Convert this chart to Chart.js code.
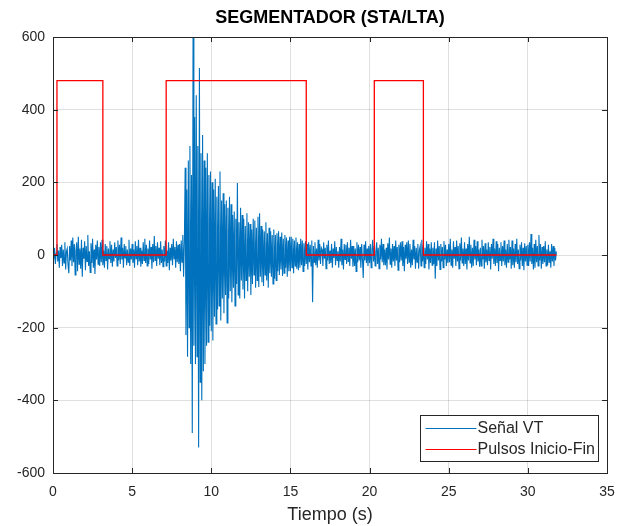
<!DOCTYPE html>
<html>
<head>
<meta charset="utf-8">
<script src="https://cdn.jsdelivr.net/npm/chart.js@4"></script>
<style>
  html, body { margin: 0; padding: 0; background: #fff; }
  #wrap { width: 617px; height: 526px; position: relative; }
</style>
</head>
<body>
<div id="wrap"><canvas id="chart-segmentador"></canvas></div>
<script>
// signal samples, one every 0.05 s starting at t = 0 (20 per row = 1 s)
const signalStart = 0;
const signalStep = 0.05;
const signalVT = [
  8, -12, 20, -25, 5, 30, -18, 12, -35, 22, -8, 28, -30, 15, -22, 35, -40, 10, 18, -28,
  -50, 25, -15, 40, -30, 48, -20, 30, -55, 12, 35, -45, 50, -25, 18, -38, 42, -60, 20, -10,
  38, -42, 25, -18, 55, -30, 10, -48, 32, -22, 45, -35, 15, -52, 28, -12, 40, -25, 22, -30,
  35, -20, 42, -28, 12, -35, 30, -15, 25, -40, 18, -10, 38, -22, 28, -32, 15, -18, 35, -8,
  22, -30, 40, -15, 28, -25, 48, -12, 20, -35, 30, -8, 25, -28, 15, -20, 42, -30, 18, -12,
  30, -22, 15, -35, 38, -10, 25, -28, 42, -18, 20, -32, 12, -25, 35, -15, 45, -22, 28, -30,
  18, -25, 40, -12, 22, -38, 30, -20, 52, -15, 25, -30, 35, -10, 20, -28, 38, -22, 15, -32,
  25, -18, 40, -30, 12, -22, 35, -42, 20, -15, 30, -28, 45, -10, 22, -35, 38, -20, 28, -25,
  30, -45, 40, -20, 55, -60, 35, 240, -220, 180, -280, 260, -200, 300, -300, 220, -490, 650, -250, 380,
  -300, 440, -280, 300, -530, 515, -350, 280, -400, 330, -320, 260, -300, 240, -250, 280, -240, 220, -195, 230,
  -210, 200, -235, 180, -170, 210, -190, 160, -150, 190, -140, 230, -180, 150, -120, 170, -160, 140, -110, 150,
  -187, 130, -120, 160, -100, 140, -130, 110, -90, 120, -140, 100, -80, 198, -110, 90, -120, 130, -70, 110,
  -95, 100, -120, 80, -70, 115, -100, 90, -60, 85, -110, 70, -80, 100, -55, 95, -90, 75, -70, 105,
  -88, 115, -60, 80, -75, 70, -85, 65, -55, 90, -70, 60, -90, 75, -50, 65, -60, 55, -80, 70,
  -65, 55, -70, 60, -45, 65, -55, 50, -40, 62, -58, 45, -50, 55, -35, 48, -60, 40, -45, 50,
  -45, 50, -35, 45, -50, 40, -30, 48, -38, 35, -42, 30, -35, 45, -28, 40, -45, 32, -30, 38,
  -25, 30, -40, 35, -20, 28, -30, 40, -130, 25, -20, 35, -28, 18, -35, 42, -15, 30, -25, 20,
  15, -30, 35, -10, 20, -38, 28, -15, 40, -25, 12, -22, 30, -35, 18, -8, 38, -28, 22, -15,
  10, -35, 22, -18, 45, -28, 15, -40, 30, -12, 28, -25, 35, -18, 20, -30, 42, -10, 25, -32,
  25, -30, 18, -45, 35, -20, 28, -15, 22, -35, 30, -12, -63, 28, -15, 38, -22, 18, -30, 25,
  -22, 30, -35, 15, 42, -18, 25, -30, 10, 35, -25, 20, -38, 28, -12, 45, -20, 30, -28, 15,
  -28, 20, -40, 32, -12, 48, -25, 18, -35, 30, -18, 25, -30, 40, -15, 22, -42, 28, -20, 35,
  -15, 38, -30, 22, -45, 28, -10, 35, -25, 40, -20, 30, -35, 15, -28, 42, -12, 25, -38, 20,
  -20, 30, -38, 15, 25, -30, 42, -18, 28, -35, 20, -25, 38, -12, 30, -40, 18, -22, 35, -28,
  20, -25, 35, -65, 18, -30, 40, -15, 25, -40, 30, -18, 22, -35, 38, -12, 28, -30, 15, -22,
  30, -20, 45, -28, 15, -35, 38, -10, 22, -30, 40, -18, 25, -38, 32, -15, 48, -22, 18, -30,
  35, -25, 18, -40, 30, -15, 50, -22, 28, -35, 20, -30, 42, -12, 25, -28, 38, -18, 15, -32,
  20, -30, 42, -12, 25, -38, 32, -20, 15, -28, 35, -15, 22, -40, 30, -10, 45, -25, 18, -30,
  38, -22, 30, -45, 20, -15, 35, -30, 25, -18, 40, -28, 15, -35, 30, -20, 42, -12, 22, -38,
  40, -28, 18, -35, 30, -20, 45, -25, 15, -38, 28, -15, 35, -30, 20, -42, 32, -18, 25, -28,
  28, -30, 35, -18, 58, -25, 20, -40, 30, -35, 42, -20, 25, -30, 55, -15, 30, -38, 22, -25,
  25, -20, 38, -30, 15, -28, 28, -22, 10, -35, 30, -18, 25, -30, 20, -15, 10
];

// start / end pulses from the STA/LTA detector
const pulseStarts = [0.25, 7.15, 20.3];
const pulseEnds = [3.15, 16.0, 23.4];
const pulseLevel = 480;

const xTicks = [0, 5, 10, 15, 20, 25, 30, 35];
const yTicks = [-600, -400, -200, 0, 200, 400, 600];

const seriesLabels = ["Señal VT", "Pulsos Inicio-Fin"];
const seriesColors = ["#0072BD", "#FF0000"];

const FONT = "'Liberation Sans', Arial, Helvetica, sans-serif";
const AXIS_COLOR = "#262626";
const GRID_COLOR = "rgba(38,38,38,0.15)";

function signalPoints() {
  return signalVT.map((v, i) => ({ x: +(signalStart + i * signalStep).toFixed(2), y: v }));
}

function pulsePoints() {
  const end = +(signalStart + (signalVT.length - 1) * signalStep).toFixed(2);
  const pts = [{ x: signalStart, y: 0 }];
  pulseStarts.forEach((s, i) => {
    pts.push({ x: s, y: 0 }, { x: s, y: pulseLevel }, { x: pulseEnds[i], y: pulseLevel }, { x: pulseEnds[i], y: 0 });
  });
  pts.push({ x: end, y: 0 });
  return pts;
}

// MATLAB-like decorations: title, box, inward ticks, legend inside the axes
const matlabFrame = {
  id: "matlabFrame",
  afterDraw(chart) {
    const { ctx, chartArea: a, scales } = chart;
    ctx.save();
    ctx.strokeStyle = AXIS_COLOR;
    ctx.lineWidth = 1;
    ctx.strokeRect(Math.round(a.left) + 0.5, Math.round(a.top) + 0.5, Math.round(a.right - a.left), Math.round(a.bottom - a.top));
    ctx.beginPath();
    xTicks.forEach((t) => {
      const px = Math.round(scales.x.getPixelForValue(t)) + 0.5;
      ctx.moveTo(px, a.bottom); ctx.lineTo(px, a.bottom - 5);
      ctx.moveTo(px, a.top); ctx.lineTo(px, a.top + 5);
    });
    yTicks.forEach((t) => {
      const py = Math.round(scales.y.getPixelForValue(t)) + 0.5;
      ctx.moveTo(a.left, py); ctx.lineTo(a.left + 5, py);
      ctx.moveTo(a.right, py); ctx.lineTo(a.right - 5, py);
    });
    ctx.stroke();

    ctx.fillStyle = "#000";
    ctx.font = `bold 18px ${FONT}`;
    ctx.textAlign = "center";
    ctx.textBaseline = "middle";
    ctx.fillText("SEGMENTADOR (STA/LTA)", (a.left + a.right) / 2, 18);

    // legend
    const lx = 420.5, ly = 415.5, lw = 178, lh = 46;
    ctx.fillStyle = "#fff";
    ctx.fillRect(lx, ly, lw, lh);
    ctx.strokeStyle = AXIS_COLOR;
    ctx.strokeRect(lx, ly, lw, lh);
    ctx.font = `16px ${FONT}`;
    ctx.textAlign = "left";
    seriesLabels.forEach((label, i) => {
      const y = ly + 13 + i * 21;
      ctx.strokeStyle = seriesColors[i];
      ctx.beginPath();
      ctx.moveTo(lx + 5, y);
      ctx.lineTo(lx + 56, y);
      ctx.stroke();
      ctx.fillStyle = AXIS_COLOR;
      ctx.fillText(label, lx + 57, y);
    });
    ctx.restore();
  },
};

new Chart(document.getElementById("chart-segmentador"), {
  type: "line",
  data: {
    datasets: [
      {
        label: seriesLabels[0],
        data: signalPoints(),
        borderColor: seriesColors[0],
        borderWidth: 1.1,
        pointRadius: 0,
        tension: 0,
        order: 1,
      },
      {
        label: seriesLabels[1],
        data: pulsePoints(),
        borderColor: seriesColors[1],
        borderWidth: 1.3,
        pointRadius: 0,
        tension: 0,
        order: 0,
      },
    ],
  },
  options: {
    responsive: true,
    maintainAspectRatio: false,
    animation: false,
    events: [],
    parsing: false,
    layout: { padding: { left: 0, right: 10, top: 37, bottom: 0 } },
    plugins: { legend: { display: false }, tooltip: { enabled: false }, title: { display: false } },
    scales: {
      x: {
        type: "linear",
        min: 0,
        max: 35,
        afterBuildTicks: (scale) => { scale.ticks = xTicks.map((v) => ({ value: v })); },
        afterFit: (scale) => { scale.height = 53; scale.paddingLeft = 0; scale.paddingRight = 0; },
        ticks: { color: AXIS_COLOR, font: { family: FONT, size: 14 }, padding: 11, maxRotation: 0 },
        grid: { color: GRID_COLOR, drawTicks: false },
        border: { display: false },
        title: { display: true, text: "Tiempo (s)", color: AXIS_COLOR, font: { family: FONT, size: 18 }, padding: { top: 2, bottom: 0 } },
      },
      y: {
        min: -600,
        max: 600,
        afterBuildTicks: (scale) => { scale.ticks = yTicks.map((v) => ({ value: v })); },
        afterFit: (scale) => { scale.width = 53; scale.paddingTop = 0; scale.paddingBottom = 0; },
        ticks: { color: AXIS_COLOR, font: { family: FONT, size: 14 }, padding: 8 },
        grid: { color: GRID_COLOR, drawTicks: false },
        border: { display: false },
      },
    },
  },
  plugins: [matlabFrame],
});
</script>
</body>
</html>
